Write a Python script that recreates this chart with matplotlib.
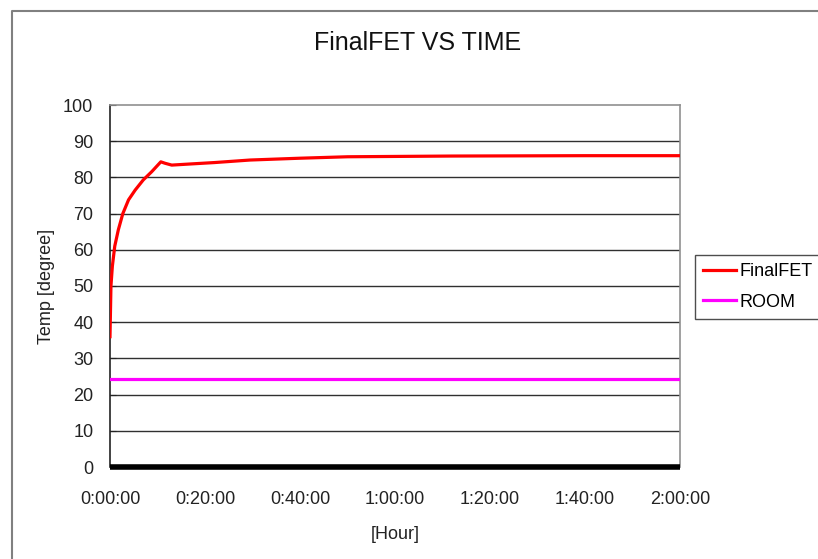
import matplotlib
matplotlib.use("Agg")
import matplotlib.pyplot as plt
from matplotlib.lines import Line2D
from matplotlib.ticker import FuncFormatter

plt.rcParams['font.family'] = ['Liberation Sans', 'DejaVu Sans']

# time in minutes, temperature in degree
fet_time = [0, 0.2, 0.5, 1.0, 1.75, 2.7, 3.9, 5.3, 7.0, 8.8, 10.7, 11.6, 13.0,
            16.8, 22, 29.5, 40, 50, 72, 100, 120]
fet_temp = [36, 50, 55.5, 61, 65.5, 70, 73.8, 76.5, 79.3, 81.6, 84.3, 83.9, 83.4,
            83.7, 84.1, 84.8, 85.3, 85.7, 85.9, 86.0, 86.0]
room_time = [0, 120]
room_temp = [24.2, 24.2]
x_ticks = [0, 20, 40, 60, 80, 100, 120]
y_ticks = [0, 10, 20, 30, 40, 50, 60, 70, 80, 90, 100]


def hms(v, pos):
    m = int(round(v))
    return f"{m // 60}:{m % 60:02d}:00"


fig = plt.figure(figsize=(8.18, 5.59), dpi=100)
ax = fig.add_axes([110 / 818, 1 - 467 / 559, 570 / 818, 362 / 559])

# outer chart border (cut by the image edges)
fig.add_artist(Line2D([12 / 818, 12 / 818, 1.0], [0.0, 1 - 11 / 559, 1 - 11 / 559],
                      transform=fig.transFigure, color='#808080', lw=1.5))

for y in y_ticks[1:-1]:
    ax.axhline(y, color='#303030', lw=1, zorder=1)

ax.plot(fet_time, fet_temp, color='#ff0000', lw=2.3, label='FinalFET', zorder=3)
ax.plot(room_time, room_temp, color='#ff00ff', lw=2.3, label='ROOM', zorder=3)

ax.set_xlim(0, 120)
ax.set_ylim(0, 100)
ax.set_xticks(x_ticks)
ax.set_yticks(y_ticks)
ax.xaxis.set_major_formatter(FuncFormatter(hms))
ax.tick_params(axis='x', length=0, pad=17, labelsize=13, colors='#222222')
ax.tick_params(axis='y', direction='in', length=4, pad=12, labelsize=13, colors='#222222')

for s in ['top', 'right']:
    ax.spines[s].set_color('#909090')
    ax.spines[s].set_linewidth(1.2)
ax.spines['left'].set_color('#222222')
ax.spines['left'].set_linewidth(1.2)
ax.spines['bottom'].set_color('black')
ax.spines['bottom'].set_linewidth(4)
ax.spines['bottom'].set_capstyle('butt')

fig.text(418 / 818, 1 - 43 / 559, 'FinalFET VS TIME', fontsize=18,
         ha='center', va='center', color='#111111')
ax.set_xlabel('[Hour]', fontsize=13, labelpad=13, color='#222222')
ax.set_ylabel('Temp [degree]', fontsize=13, labelpad=6, color='#222222')

leg = ax.legend(loc='upper left', bbox_to_anchor=(695 / 818, 1 - 255 / 559),
                bbox_transform=fig.transFigure, frameon=True, fancybox=False,
                fontsize=13, handlelength=1.8, handletextpad=0.2,
                borderpad=0.45, labelspacing=0.75, borderaxespad=0)
leg.get_frame().set_edgecolor('#222222')
leg.get_frame().set_linewidth(1)

fig.savefig('out.png', dpi=100)
